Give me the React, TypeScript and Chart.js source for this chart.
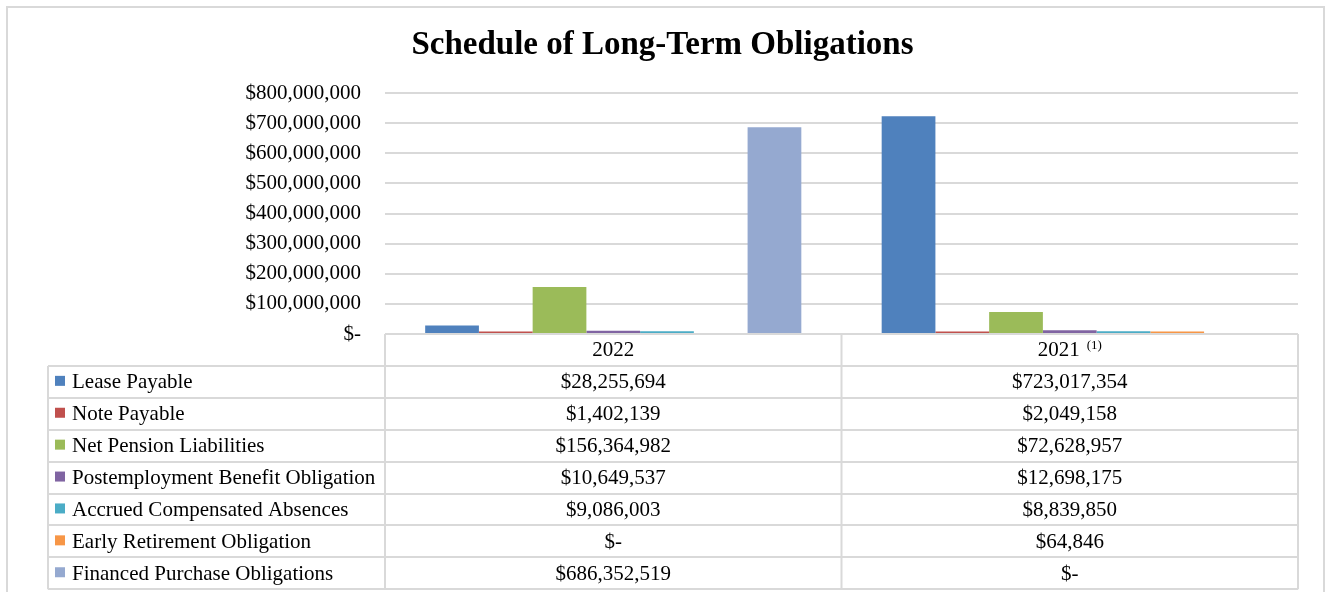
import React, { useEffect, useRef } from "react";
import { Chart, registerables } from "chart.js";

Chart.register(...registerables);

const TITLE = "Schedule of Long-Term Obligations";
const categories = ["2022", "2021"];
const categoryNotes = ["", "(1)"];
const seriesNames = [
  "Lease Payable",
  "Note Payable",
  "Net Pension Liabilities",
  "Postemployment Benefit Obligation",
  "Accrued Compensated Absences",
  "Early Retirement Obligation",
  "Financed Purchase Obligations",
];
const seriesColors = ["#4F81BD", "#C0504D", "#9BBB59", "#8064A2", "#4BACC6", "#F79646", "#95A9D0"];
const leasePayable = [28255694, 723017354];
const notePayable = [1402139, 2049158];
const netPensionLiabilities = [156364982, 72628957];
const postemploymentBenefit = [10649537, 12698175];
const accruedCompensated = [9086003, 8839850];
const earlyRetirement = [0, 64846];
const financedPurchase = [686352519, 0];
const seriesValues = [
  leasePayable,
  notePayable,
  netPensionLiabilities,
  postemploymentBenefit,
  accruedCompensated,
  earlyRetirement,
  financedPurchase,
];
const yMin = 0;
const yMax = 800000000;
const yStep = 100000000;

const FONT = "'Liberation Serif', 'Times New Roman', serif";
const GRID = "#D9D9D9";

const money = (v: number) => (v === 0 ? "$-" : "$" + v.toLocaleString("en-US"));

const tablePlugin = {
  id: "dataTable",
  beforeDraw(chart: any) {
    const ctx = chart.ctx;
    ctx.save();
    ctx.fillStyle = "#FFFFFF";
    ctx.fillRect(0, 0, chart.width, chart.height);
    ctx.restore();
  },
  afterDraw(chart: any) {
    const ctx = chart.ctx;
    const { left, right, bottom } = chart.chartArea;
    const xs = chart.scales.x;
    const n = categories.length;
    const centers = categories.map((_, i) => xs.getPixelForTick(i));
    const bounds: number[] = [left];
    for (let i = 0; i < n - 1; i++) bounds.push((centers[i] + centers[i + 1]) / 2);
    bounds.push(right);
    const rowH = 31.9;
    const legendLeft = 48;
    const headerTop = bottom;
    const rowsTop = headerTop + rowH;
    const tableBottom = rowsTop + rowH * seriesNames.length;

    ctx.save();
    ctx.strokeStyle = GRID;
    ctx.lineWidth = 2;
    ctx.beginPath();
    ctx.moveTo(left, headerTop);
    ctx.lineTo(right, headerTop);
    for (let r = 0; r <= seriesNames.length; r++) {
      const y = Math.round(rowsTop + r * rowH);
      ctx.moveTo(legendLeft, y);
      ctx.lineTo(right, y);
    }
    ctx.moveTo(legendLeft, rowsTop);
    ctx.lineTo(legendLeft, tableBottom);
    bounds.forEach((bx) => {
      ctx.moveTo(bx, headerTop);
      ctx.lineTo(bx, tableBottom);
    });
    ctx.stroke();

    // outer frame
    ctx.strokeRect(7, 7, 1317, 620);

    ctx.fillStyle = "#000000";
    ctx.textBaseline = "middle";
    categories.forEach((c, i) => {
      const cy = headerTop + rowH / 2 + 1;
      ctx.font = `21px ${FONT}`;
      const w1 = ctx.measureText(c).width;
      const note = categoryNotes[i];
      let w2 = 0;
      if (note) {
        ctx.font = `13px ${FONT}`;
        w2 = ctx.measureText(note).width + 7;
      }
      const start = centers[i] - (w1 + w2) / 2;
      ctx.font = `21px ${FONT}`;
      ctx.textAlign = "left";
      ctx.fillText(c, start, cy);
      if (note) {
        ctx.font = `13px ${FONT}`;
        ctx.fillText(note, start + w1 + 7, cy - 5);
      }
    });
    seriesNames.forEach((name, r) => {
      const cy = rowsTop + r * rowH + rowH / 2 + 1;
      ctx.fillStyle = seriesColors[r];
      ctx.fillRect(legendLeft + 7, cy - 7, 10, 10);
      ctx.fillStyle = "#000000";
      ctx.font = `21px ${FONT}`;
      ctx.textAlign = "left";
      ctx.fillText(name, legendLeft + 24, cy);
      ctx.textAlign = "center";
      seriesValues[r].forEach((v, i) => {
        ctx.fillText(money(v), centers[i], cy);
      });
    });
    ctx.restore();
  },
};

export default function App() {
  const ref = useRef<HTMLCanvasElement>(null);
  useEffect(() => {
    if (!ref.current) return;
    const chart = new Chart(ref.current, {
      type: "bar",
      data: {
        labels: categories,
        datasets: seriesNames.map((name, i) => ({
          label: name,
          data: seriesValues[i].map((v) => (v === 0 ? null : v)),
          backgroundColor: seriesColors[i],
          borderWidth: 0,
          categoryPercentage: 0.824,
          barPercentage: 1,
          minBarLength: 2.5,
        })),
      },
      options: {
        responsive: false,
        animation: false,
        devicePixelRatio: 1,
        layout: { padding: { top: 0, left: 27, right: 32, bottom: 258 } },
        plugins: {
          legend: { display: false },
          tooltip: { enabled: false },
          title: {
            display: true,
            text: TITLE,
            color: "#000000",
            font: { family: FONT, size: 33, weight: "bold", lineHeight: 1.2 },
            padding: { top: 26, bottom: 27.4 },
          },
        },
        scales: {
          x: { display: false },
          y: {
            min: yMin,
            max: yMax,
            border: { display: false },
            grid: { color: GRID, lineWidth: 2, drawTicks: false },
            ticks: {
              stepSize: yStep,
              padding: 24,
              color: "#000000",
              font: { family: FONT, size: 21 },
              callback: (v: any) => money(Number(v)),
            },
            afterFit: (s: any) => {
              s.width = 358;
            },
          },
        },
      },
      plugins: [tablePlugin],
    });
    return () => chart.destroy();
  }, []);
  return (
    <div style={{ position: "fixed", left: 0, top: 0, width: 1330, height: 592, background: "#fff" }}>
      <canvas ref={ref} width={1330} height={592} style={{ display: "block" }} />
    </div>
  );
}
